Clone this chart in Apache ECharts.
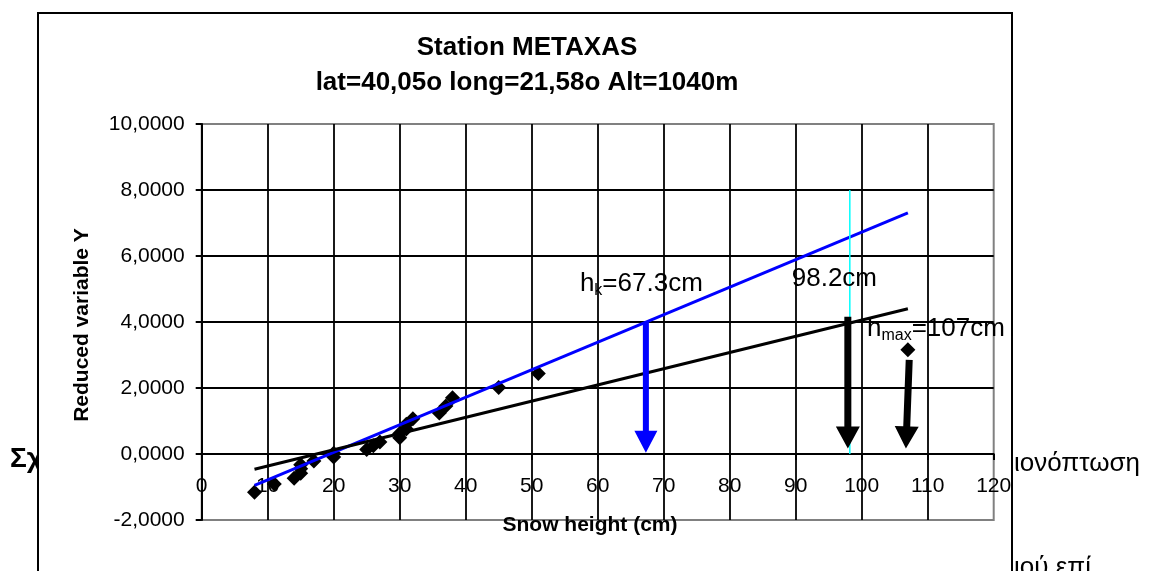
<!DOCTYPE html>
<html>
<head>
<meta charset="utf-8">
<script src="https://cdn.jsdelivr.net/npm/echarts@6.0.0/dist/echarts.min.js"></script>
<style>
  html, body { margin: 0; padding: 0; background: #fff; }
  #chart { width: 1169px; height: 571px; }
</style>
</head>
<body>
<div id="chart"></div>
<script>
// observed snow heights (cm) and reduced variable Y
var snowX = [8, 11, 14, 15, 15, 15, 17, 20, 20, 25, 26, 27, 30, 30, 31, 31, 32, 36, 37, 38, 45, 51, 107];
var reducedY = [-1.156, -0.910, -0.732, -0.583, -0.450, -0.327, -0.209, -0.094, 0.019, 0.133, 0.248, 0.367,
  0.489, 0.618, 0.755, 0.903, 1.065, 1.246, 1.454, 1.702, 2.013, 2.442, 3.157];

// fitted lines, read at both ends
var fitX = [8, 107];
var blueFitY = [-0.95, 7.31];
var blackFitY = [-0.46, 4.40];

// cyan marker at 98.2 cm
var cyanX = [98.2, 98.2];
var cyanY = [8, 0];

// arrows: from (x1,y1) down to tip (x2,y2)
var arrowX1 = [67.3, 97.9, 107.2];
var arrowY1 = [4.0, 4.16, 2.85];
var arrowX2 = [67.3, 97.9, 106.7];
var arrowY2 = [0.04, 0.17, 0.17];

// annotations
var noteX = [57.3, 89.4, 100.8];
var noteY = [5.17, 5.30, 3.79];
var noteMain = ['h', '98.2cm', 'h'];
var noteSub = ['k', '', 'max'];
var noteRest = ['=67.3cm', '', '=107cm'];

var xTicks = [0, 120, 10];
var yTicks = [-2, 10, 2];

var FONT = "'Liberation Sans', Arial, sans-serif";
var arrowColors = ['#0000ff', '#000000', '#000000'];
var arrowShaft = [6, 7, 7];
var arrowHeadW = [23, 24, 24];
var arrowHeadL = [22, 22, 22];

var measureCtx = document.createElement('canvas').getContext('2d');
function textW(str, size) {
  measureCtx.font = size + 'px ' + FONT;
  return measureCtx.measureText(str).width;
}

var chart = echarts.init(document.getElementById('chart'));

var option = {
  animation: false,
  backgroundColor: '#fff',
  grid: {
    left: 201.7, right: 175.3, top: 124, bottom: 51,
    show: true, borderColor: '#808080', borderWidth: 2, backgroundColor: 'transparent'
  },
  xAxis: {
    type: 'value', min: xTicks[0], max: xTicks[1], interval: xTicks[2],
    axisLine: { onZero: true, lineStyle: { color: '#000', width: 2 } },
    axisTick: { show: true, length: 6, lineStyle: { color: '#000', width: 2 } },
    // labels sit just under the zero line, as in the original
    axisLabel: { margin: -44, fontSize: 21, color: '#000', fontFamily: FONT },
    splitLine: { show: true, showMinLine: false, showMaxLine: false, lineStyle: { color: '#000', width: 1.8 } }
  },
  yAxis: {
    type: 'value', min: yTicks[0], max: yTicks[1], interval: yTicks[2],
    axisLine: { show: true, onZero: false, lineStyle: { color: '#000', width: 2 } },
    axisTick: { show: true, length: 6, lineStyle: { color: '#000', width: 2 } },
    axisLabel: {
      margin: 17, fontSize: 21, color: '#000', fontFamily: FONT,
      formatter: function (v) { return v.toFixed(4).replace('.', ','); }
    },
    splitLine: { show: true, showMinLine: false, showMaxLine: false, lineStyle: { color: '#000', width: 1.8 } }
  },
  graphic: [
    { type: 'text', z: -20, style: { text: 'Σχήμα', x: 10, y: 459, fontSize: 28, fontWeight: 'bold', fontFamily: FONT, fill: '#000', verticalAlign: 'middle' } },
    { type: 'text', z: -20, style: { text: 'ιονόπτωση', x: 1014, y: 464, fontSize: 26, fontFamily: FONT, fill: '#000', verticalAlign: 'middle' } },
    { type: 'text', z: -20, style: { text: 'ιού επί', x: 1014, y: 568, fontSize: 26, fontFamily: FONT, fill: '#000', verticalAlign: 'middle' } },
    { type: 'rect', z: -10, shape: { x: 38, y: 13, width: 974, height: 620 }, style: { fill: '#fff', stroke: '#000', lineWidth: 2 } },
    { type: 'text', z: 5, style: { text: 'Station METAXAS', x: 527, y: 48, fontSize: 26, fontWeight: 'bold', fontFamily: FONT, fill: '#000', align: 'center', verticalAlign: 'middle' } },
    { type: 'text', z: 5, style: { text: 'lat=40,05o long=21,58o Alt=1040m', x: 527, y: 83, fontSize: 26, fontWeight: 'bold', fontFamily: FONT, fill: '#000', align: 'center', verticalAlign: 'middle' } },
    { type: 'text', z: 5, x: 82, y: 325, rotation: Math.PI / 2, style: { text: 'Reduced variable Y', x: 0, y: 0, fontSize: 21, fontWeight: 'bold', fontFamily: FONT, fill: '#000', align: 'center', verticalAlign: 'middle' } },
    { type: 'text', z: 5, style: { text: 'Snow height (cm)', x: 590, y: 525, fontSize: 21, fontWeight: 'bold', fontFamily: FONT, fill: '#000', align: 'center', verticalAlign: 'middle' } }
  ],
  series: [
    {
      type: 'scatter', symbol: 'diamond', symbolSize: 15,
      itemStyle: { color: '#000', opacity: 1 },
      data: snowX.map(function (x, i) { return [x, reducedY[i]]; }),
      z: 2
    },
    {
      type: 'line', showSymbol: false, symbol: 'none',
      lineStyle: { color: '#0000ff', width: 3 },
      data: fitX.map(function (x, i) { return [x, blueFitY[i]]; }),
      z: 3
    },
    {
      type: 'line', showSymbol: false, symbol: 'none',
      lineStyle: { color: '#000', width: 3 },
      data: fitX.map(function (x, i) { return [x, blackFitY[i]]; }),
      z: 3
    },
    {
      type: 'line', showSymbol: false, symbol: 'none',
      lineStyle: { color: '#00ffff', width: 1.5 },
      data: cyanX.map(function (x, i) { return [x, cyanY[i]]; }),
      z: 3
    },
    {
      type: 'custom', z: 4,
      data: arrowX1.map(function (x, i) { return [x, arrowY1[i], arrowX2[i], arrowY2[i]]; }),
      renderItem: function (params, api) {
        var i = params.dataIndex;
        var p1 = api.coord([api.value(0), api.value(1)]);
        var p2 = api.coord([api.value(2), api.value(3)]);
        var dx = p2[0] - p1[0], dy = p2[1] - p1[1];
        var len = Math.sqrt(dx * dx + dy * dy);
        var ux = dx / len, uy = dy / len;
        var nx = -uy, ny = ux;
        var s = arrowShaft[i] / 2, w = arrowHeadW[i] / 2, L = arrowHeadL[i];
        var bx = p2[0] - ux * L, by = p2[1] - uy * L;
        var pts = [
          [p1[0] + nx * s, p1[1] + ny * s],
          [bx + nx * s, by + ny * s],
          [bx + nx * w, by + ny * w],
          [p2[0], p2[1]],
          [bx - nx * w, by - ny * w],
          [bx - nx * s, by - ny * s],
          [p1[0] - nx * s, p1[1] - ny * s]
        ];
        return { type: 'polygon', shape: { points: pts }, style: { fill: arrowColors[i] } };
      }
    },
    {
      type: 'custom', z: 5,
      data: noteX.map(function (x, i) { return [x, noteY[i]]; }),
      renderItem: function (params, api) {
        var i = params.dataIndex;
        var p = api.coord([api.value(0), api.value(1)]);
        var x0 = p[0];
        var kids = [];
        kids.push({ type: 'text', style: { text: noteMain[i], x: x0, y: p[1], fontSize: 26, fontFamily: FONT, fill: '#000', verticalAlign: 'middle' } });
        x0 += textW(noteMain[i], 26);
        if (noteSub[i]) {
          kids.push({ type: 'text', style: { text: noteSub[i], x: x0, y: p[1] + 7, fontSize: 16, fontFamily: FONT, fill: '#000', verticalAlign: 'middle' } });
          x0 += textW(noteSub[i], 16);
        }
        if (noteRest[i]) {
          kids.push({ type: 'text', style: { text: noteRest[i], x: x0, y: p[1], fontSize: 26, fontFamily: FONT, fill: '#000', verticalAlign: 'middle' } });
        }
        return { type: 'group', children: kids };
      }
    }
  ]
};

chart.setOption(option);
</script>
</body>
</html>
